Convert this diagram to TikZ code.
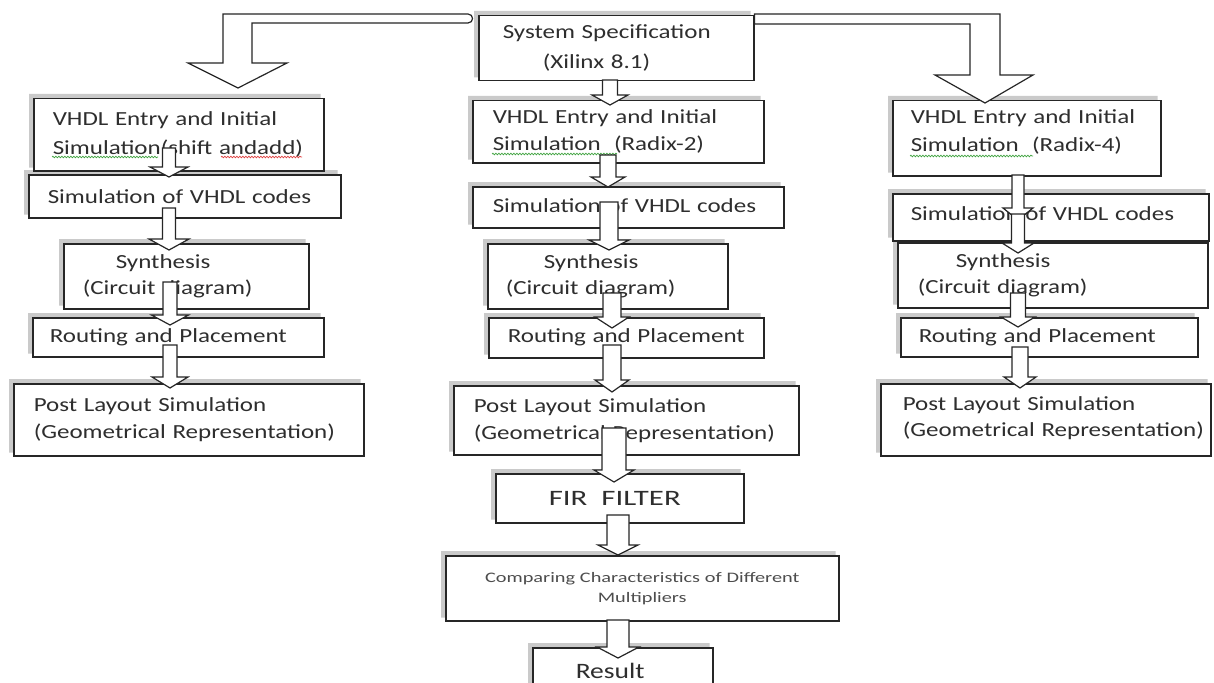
\documentclass[tikz,border=0pt]{standalone}
\usepackage{fontspec}
\setmainfont{Carlito}[FakeStretch=1.25]
\newfontfamily\widefont{Carlito}[FakeStretch=1.4]
\usetikzlibrary{calc,backgrounds,decorations.pathmorphing}
\definecolor{linecol}{HTML}{262626}
\definecolor{txtcol}{HTML}{2E2E2E}
\definecolor{shadecol}{HTML}{CACACA}
\definecolor{spellgreen}{HTML}{3FA33F}
\definecolor{spellred}{HTML}{E04040}
\tikzset{
  box/.style={draw=linecol, line width=1.5pt, fill=white, anchor=north west,
    inner ysep=0pt, align=left, text=txtcol, font=\fontsize{20}{29}\selectfont},
  blockarrow/.style={draw=linecol, line width=1.2pt, fill=white, line join=miter},
  spell/.style={line width=0.7pt, decorate, decoration={snake, amplitude=0.8pt, segment length=3pt}}
}
% block arrow: start, tip, shaft half width, head half width, head length
\newcommand\barrow[5]{%
  \draw[blockarrow] let \p1=#1, \p2=#2 in
    (\x1-#3pt,\y1) -- (\x1-#3pt,\y2+#5pt) -- (\x1-#4pt,\y2+#5pt) -- (\x2,\y2)
    -- (\x1+#4pt,\y2+#5pt) -- (\x1+#3pt,\y2+#5pt) -- (\x1+#3pt,\y1) -- cycle;}
% grey band above and left of a box
\newcommand\boxshadow[1]{%
  \fill[shadecol] ($(#1.north west)+(-4pt,4pt)$) -- ($(#1.north east)+(-4pt,4pt)$)
    -- ($(#1.north east)+(-4pt,0pt)$) -- (#1.north west) -- ($(#1.south west)+(0pt,4pt)$)
    -- ($(#1.south west)+(-4pt,4pt)$) -- cycle;}
\begin{document}
\begin{tikzpicture}[x=1pt,y=-1pt]
\useasboundingbox (0,0) rectangle (1214,682);
\begin{pgfonlayer}{background}
\fill[white] (0,0) rectangle (1214,682);
\end{pgfonlayer}
\clip (0,0) rectangle (1214,682);

% top
\node[box, minimum width=275pt, minimum height=65pt, text width=227pt, inner xsep=24pt,
      font=\fontsize{20}{30}\selectfont] (top) at (478,15)
  {\mbox{System Specification}\\\mbox{\hspace*{40pt}(Xilinx 8.1)}};

% left column
\node[box, minimum width=290pt, minimum height=72pt, text width=252pt, inner xsep=19pt] (v1) at (33,98)
  {\mbox{VHDL Entry and Initial}\\\mbox{Simulation(shift andadd)}};
\node[box, minimum width=312pt, minimum height=43pt, text width=274pt, inner xsep=19pt] (s1) at (28,174)
  {\mbox{Simulation of VHDL codes}};
\node[box, minimum width=245pt, minimum height=65pt, text width=207pt, inner xsep=19pt,
      font=\fontsize{20}{26}\selectfont] (y1) at (63,243)
  {\mbox{\hspace*{33pt}Synthesis}\\\mbox{(Circuit diagram)}};
\node[box, minimum width=291pt, minimum height=39pt, text width=257pt, inner xsep=17pt] (r1) at (32,317)
  {\mbox{Routing and Placement}};
\node[box, minimum width=350pt, minimum height=72pt, text width=310pt, inner xsep=20pt,
      font=\fontsize{20}{27}\selectfont] (p1) at (13,383)
  {\mbox{Post Layout Simulation}\\\mbox{(Geometrical Representation)}};

% middle column
\node[box, minimum width=291pt, minimum height=62pt, text width=251pt, inner xsep=20pt,
      font=\fontsize{20}{27}\selectfont] (v2) at (472,100)
  {\mbox{VHDL Entry and Initial}\\\mbox{Simulation\ \ (Radix-2)}};
\node[box, minimum width=311pt, minimum height=41pt, text width=271pt, inner xsep=20pt] (s2) at (472,186)
  {\mbox{Simulation of VHDL codes}\rule[-4pt]{0pt}{4pt}};
\node[box, minimum width=240pt, minimum height=65pt, text width=204pt, inner xsep=18pt,
      font=\fontsize{20}{26}\selectfont] (y2) at (487,243)
  {\mbox{\hspace*{38pt}Synthesis}\\\mbox{(Circuit diagram)}};
\node[box, minimum width=275pt, minimum height=40pt, text width=237pt, inner xsep=19pt] (r2) at (488,317)
  {\mbox{Routing and Placement}};
\node[box, minimum width=345pt, minimum height=69pt, text width=305pt, inner xsep=20pt,
      font=\fontsize{20}{27}\selectfont] (p2) at (453,385)
  {\mbox{Post Layout Simulation}\\\mbox{(Geometrical Representation)}};
\node[box, minimum width=248pt, minimum height=49pt, text width=142pt, inner xsep=53pt,
      font=\widefont\fontsize{22}{26}\selectfont] (fir) at (495,473)
  {\mbox{FIR\hspace*{14pt}FILTER}};
\node[box, minimum width=393pt, minimum height=65pt, text width=383pt, inner xsep=5pt, align=center,
      text=txtcol!85, font=\widefont\fontsize{14.5}{20}\selectfont] (cmp) at (445,555)
  {Comparing Characteristics of Different\\Multipliers};
\node[box, minimum width=180pt, minimum height=46pt, text width=94pt, inner xsep=43pt,
      font=\fontsize{22}{26}\selectfont] (res) at (532,647)
  {\mbox{Result}};

% right column
\node[box, minimum width=268pt, minimum height=75pt, text width=232pt, inner xsep=18pt,
      font=\fontsize{20}{28}\selectfont] (v3) at (892,100)
  {\mbox{VHDL Entry and Initial}\\\mbox{Simulation\ \ (Radix-4)}\rule[-15pt]{0pt}{15pt}};
\node[box, minimum width=316pt, minimum height=47pt, text width=280pt, inner xsep=18pt] (s3) at (892,193)
  {\mbox{Simulation of VHDL codes}\rule[-8pt]{0pt}{8pt}};
\node[box, minimum width=310pt, minimum height=65pt, text width=270pt, inner xsep=20pt,
      font=\fontsize{20}{26}\selectfont] (y3) at (897,242)
  {\mbox{\hspace*{38pt}Synthesis}\\\mbox{(Circuit diagram)}};
\node[box, minimum width=297pt, minimum height=39pt, text width=261pt, inner xsep=18pt] (r3) at (900,317)
  {\mbox{Routing and Placement}};
\node[box, minimum width=330pt, minimum height=72pt, text width=286pt, inner xsep=22pt,
      font=\fontsize{20}{26}\selectfont] (p3) at (880,383)
  {\mbox{Post Layout Simulation}\\\mbox{(Geometrical Representation)}\rule[-6pt]{0pt}{6pt}};

% shadows behind the boxes
\begin{pgfonlayer}{background}
\foreach \n in {top,v1,s1,y1,r1,p1,v2,s2,y2,r2,p2,fir,cmp,res,v3,s3,y3,r3,p3}{\boxshadow{\n}}
\end{pgfonlayer}

% spell-check underlines
\draw[spell, spellgreen] (52,157) -- (158,157);
\draw[spell, spellred] (221,157) -- (302,157);
\draw[spell, spellgreen] (492,154) -- (617,154);
\draw[spell, spellgreen] (910,156) -- (1033,156);

% big bent arrows from the specification box
\draw[blockarrow] (468,14) -- (223,14) -- (223,63) -- (188,63) -- (238,88) -- (287,63)
  -- (252,63) -- (252,23) -- (468,23) .. controls (474,23) and (474,14) .. (468,14) -- cycle;
\draw[blockarrow] (top.north east |- 0,14) -- (1000,14) -- (1000,75) -- (1033,75) -- (985,103)
  -- (935,75) -- (970,75) -- (970,24) -- (top.north east |- 0,24) -- cycle;

% left column arrows
\barrow{(169,148)}{(169,177)}{6.5}{19}{10}
\barrow{(169,208)}{(169,250)}{6.5}{20}{11}
\barrow{(170,282)}{(170,325)}{7}{18.5}{10}
\barrow{(170,345)}{(170,388)}{7}{18}{11}
% middle column arrows
\barrow{(610,80)}{(610,105)}{7.5}{18}{10}
\barrow{(608,155)}{(608,187)}{8}{17}{10}
\barrow{(609,202)}{(609,250)}{9}{20}{10}
\barrow{(612,293)}{(612,328)}{9}{17}{11}
\barrow{(612,345)}{(612,392)}{9}{17}{12}
\barrow{(614,428)}{(614,482)}{12}{20}{12}
\barrow{(618,515)}{(618,555)}{11}{20}{10}
\barrow{(618,620)}{(618,658)}{11}{21}{11}
% right column arrows
\barrow{(1018,175)}{(1018,220)}{6}{15}{12}
\barrow{(1018,214)}{(1018,253)}{6.5}{16}{10}
\barrow{(1018,293)}{(1018,327)}{7.5}{17}{10}
\barrow{(1020,347)}{(1020,388)}{8}{16}{11}
\end{tikzpicture}
\end{document}
